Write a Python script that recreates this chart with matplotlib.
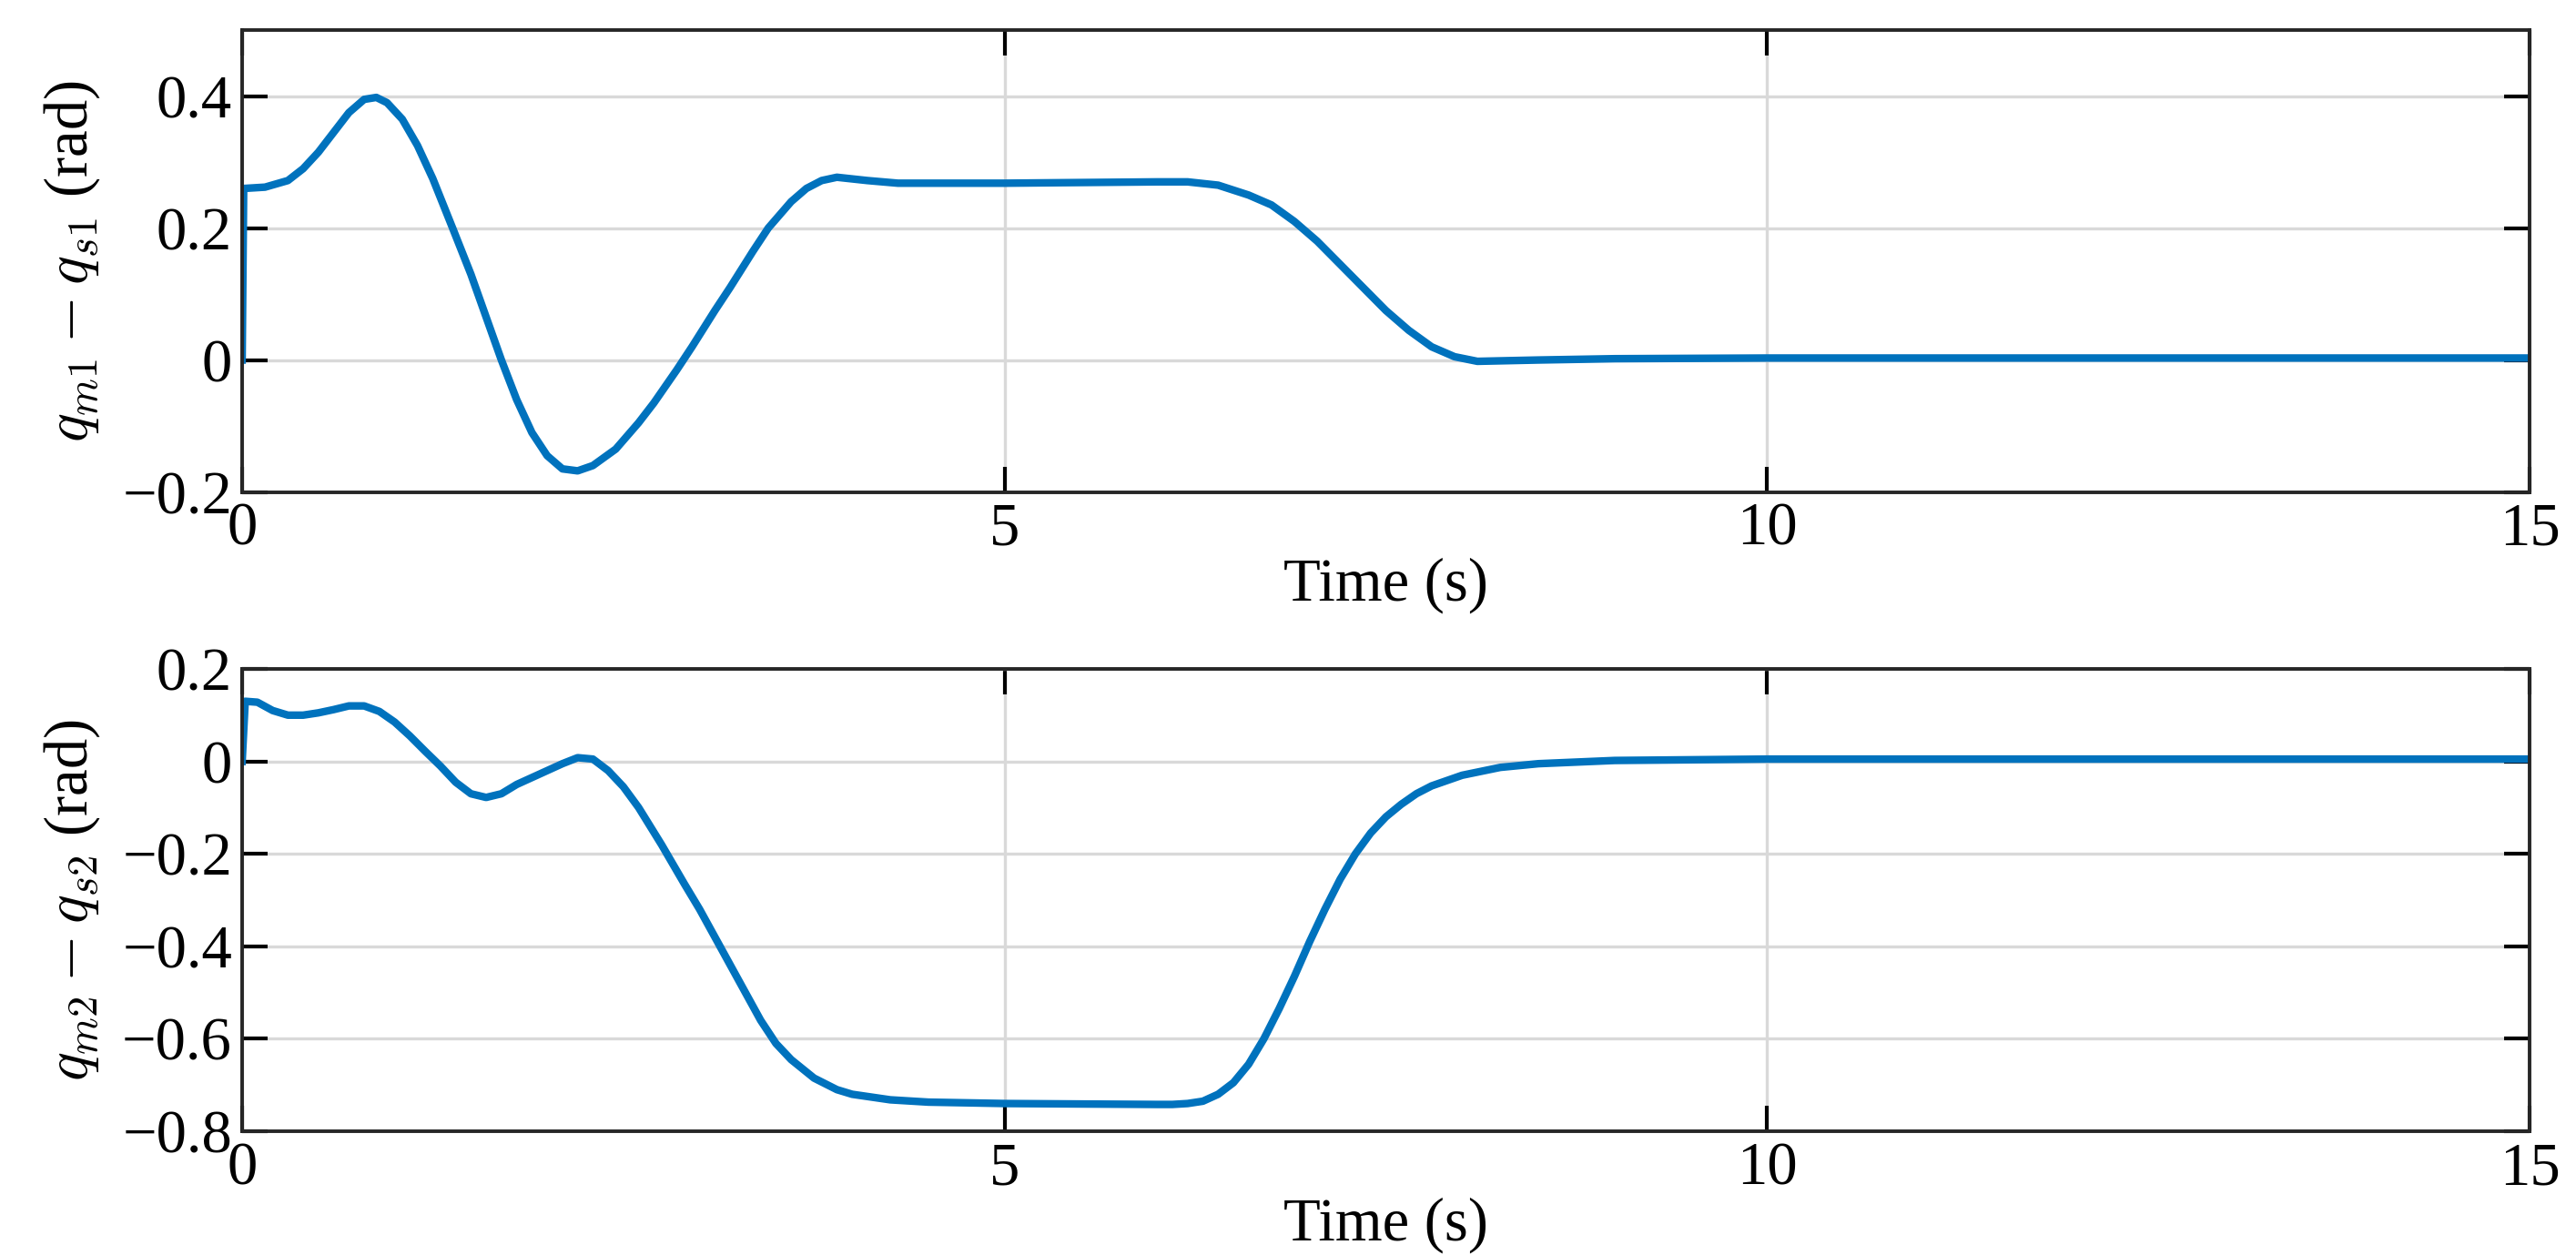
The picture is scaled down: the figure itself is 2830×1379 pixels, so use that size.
import matplotlib
matplotlib.use("Agg")
import matplotlib.pyplot as plt

t1 = [0, 0.01, 0.15, 0.3, 0.4, 0.5, 0.6, 0.7, 0.8, 0.88, 0.95, 1.05, 1.15, 1.25, 1.38, 1.5, 1.6, 1.7, 1.8, 1.9, 2.0, 2.1, 2.2, 2.3, 2.45, 2.6, 2.7, 2.85, 2.95, 3.1, 3.2, 3.35, 3.45, 3.6, 3.7, 3.8, 3.9, 4.1, 4.3, 5, 6, 6.2, 6.4, 6.6, 6.75, 6.9, 7.05, 7.2, 7.35, 7.5, 7.65, 7.8, 7.95, 8.1, 8.5, 9, 10, 15]
y1 = [0, 0.26, 0.262, 0.272, 0.29, 0.315, 0.345, 0.375, 0.395, 0.398, 0.39, 0.365, 0.325, 0.275, 0.2, 0.13, 0.065, 0.0, -0.06, -0.11, -0.145, -0.165, -0.168, -0.16, -0.135, -0.095, -0.065, -0.015, 0.02, 0.075, 0.11, 0.165, 0.2, 0.24, 0.26, 0.272, 0.277, 0.272, 0.268, 0.268, 0.27, 0.27, 0.265, 0.25, 0.235, 0.21, 0.18, 0.145, 0.11, 0.075, 0.045, 0.02, 0.005, -0.002, 0.0, 0.002, 0.003, 0.003]

t2 = [0, 0.02, 0.1, 0.2, 0.3, 0.4, 0.5, 0.6, 0.7, 0.8, 0.9, 1.0, 1.1, 1.2, 1.3, 1.4, 1.5, 1.6, 1.7, 1.8, 1.9, 2.0, 2.1, 2.2, 2.3, 2.4, 2.5, 2.6, 2.75, 2.9, 3.0, 3.1, 3.25, 3.4, 3.5, 3.6, 3.75, 3.9, 4.0, 4.25, 4.5, 5, 6, 6.1, 6.2, 6.3, 6.4, 6.5, 6.6, 6.7, 6.8, 6.9, 7.0, 7.1, 7.2, 7.3, 7.4, 7.5, 7.6, 7.7, 7.8, 8.0, 8.25, 8.5, 9, 10, 15]
y2 = [0, 0.13, 0.128, 0.11, 0.10, 0.1, 0.105, 0.112, 0.12, 0.12, 0.108, 0.085, 0.055, 0.022, -0.01, -0.045, -0.07, -0.078, -0.07, -0.05, -0.035, -0.02, -0.005, 0.008, 0.005, -0.02, -0.055, -0.1, -0.18, -0.265, -0.32, -0.38, -0.47, -0.56, -0.61, -0.645, -0.685, -0.71, -0.72, -0.732, -0.737, -0.74, -0.742, -0.742, -0.74, -0.735, -0.72, -0.695, -0.655, -0.6, -0.535, -0.465, -0.39, -0.32, -0.255, -0.2, -0.155, -0.12, -0.093, -0.07, -0.053, -0.03, -0.013, -0.005, 0.002, 0.005, 0.005]

plt.rcParams['font.family'] = ['Liberation Serif', 'DejaVu Serif']
plt.rcParams['mathtext.fontset'] = 'cm'
plt.rcParams['font.size'] = 24

fig = plt.figure(figsize=(14.15, 6.895), dpi=200)
ax1 = fig.add_axes([0.094, 0.608, 0.888, 0.368])
ax2 = fig.add_axes([0.094, 0.0986, 0.888, 0.3684])

def style(ax, yt, ylim, ylabel):
    ax.set_xlim(0, 15)
    ax.set_ylim(*ylim)
    ax.set_xticks([0, 5, 10, 15])
    ax.set_yticks(yt)
    ax.set_yticklabels(['0' if v == 0 else f'{v:g}'.replace('-', '\u2212') for v in yt])
    ax.grid(True, color='#d9d9d9', linewidth=1.2)
    ax.set_axisbelow(True)
    ax.tick_params(direction='in', top=True, right=True, length=10, width=1.5, pad=4)
    for s in ax.spines.values():
        s.set_linewidth(1.4)
        s.set_color('#262626')
    ax.set_xlabel('Time (s)', labelpad=0)
    ax.set_ylabel(ylabel, labelpad=8)

ax1.plot(t1, y1, color='#0072BD', lw=3.0)
style(ax1, [-0.2, 0, 0.2, 0.4], (-0.2, 0.5), r'$q_{m1} - q_{s1}$ (rad)')
ax2.plot(t2, y2, color='#0072BD', lw=3.0)
style(ax2, [-0.8, -0.6, -0.4, -0.2, 0, 0.2], (-0.8, 0.2), r'$q_{m2} - q_{s2}$ (rad)')

fig.savefig('out.png', dpi=200)
